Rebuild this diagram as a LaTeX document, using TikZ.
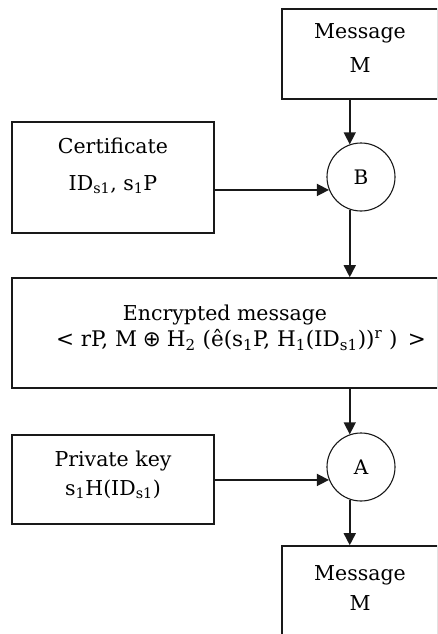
\documentclass[tikz,border=0pt]{standalone}
\usepackage{fontspec}
\setmainfont{DejaVu Serif}
\newfontfamily\symfont{DejaVu Sans}
\usetikzlibrary{arrows.meta}
\begin{document}
\begin{tikzpicture}[x=1pt,y=-1pt,
  box/.style={draw=black!90, line width=1.6pt, rectangle, inner sep=0pt},
  op/.style={draw=black!90, circle, line width=1.1pt, minimum size=68pt, inner sep=0pt, font=\fontsize{20}{24}\selectfont},
  txt/.style={anchor=base, inner sep=0pt, font=\fontsize{20.5}{24}\selectfont},
  formula/.style={anchor=base, inner sep=0pt, font=\fontsize{21.5}{24}\selectfont},
  flow/.style={draw=black!90, line width=1.6pt, -{Triangle[width=12pt,length=12pt]}}]
\useasboundingbox (0,0) rectangle (437,634);
\clip (0,0) rectangle (437,634);
% boxes
\node[box, minimum width=156pt, minimum height=90pt] (msg1) at (360,54) {};
\node[box, minimum width=202pt, minimum height=111pt] (cert) at (113,177.5) {};
\node[box, minimum width=426pt, minimum height=110pt] (enc) at (225,333) {};
\node[box, minimum width=202pt, minimum height=89pt] (pk) at (113,479.5) {};
\node[box, minimum width=156pt, minimum height=108pt] (msg2) at (360,600) {};
% operators
\node[op] (B) at (361,177) {B};
\node[op] (A) at (361,467) {A};
% texts
\node[txt] (msg1a) at (360,38) {Message};
\node[txt] (msg1b) at (360,72) {M};
\node[txt] (certa) at (113,153) {Certificate};
\node[txt] (certb) at (113,190) {ID\textsubscript{s1}, s\textsubscript{1}P};
\node[txt] (enca) at (225,320) {Encrypted message};
\node[formula] (encb) at (241,346) {<\ rP,\ M\;{\symfont ⊕}\;H\textsubscript{2}\ (ê(s\textsubscript{1}P,\ H\textsubscript{1}(ID\textsubscript{s1}))\textsuperscript{r}\ )\ \,>};
\node[txt] (pka) at (113,466) {Private key};
\node[txt] (pkb) at (113,495) {s\textsubscript{1}H(ID\textsubscript{s1})};
\node[txt] (msg2a) at (360,580) {Message};
\node[txt] (msg2b) at (360,610) {M};
% connectors
\draw[flow] (B.109 |- msg1.south) -- (B.109);
\draw[flow] (cert.east |- B.202) -- (B.202);
\draw[flow] (B.251) -- (B.251 |- enc.north);
\draw[flow] (A.109 |- enc.south) -- (A.109);
\draw[flow] (pk.east |- A.202) -- (A.202);
\draw[flow] (A.251) -- (A.251 |- msg2.north);
\end{tikzpicture}
\end{document}
